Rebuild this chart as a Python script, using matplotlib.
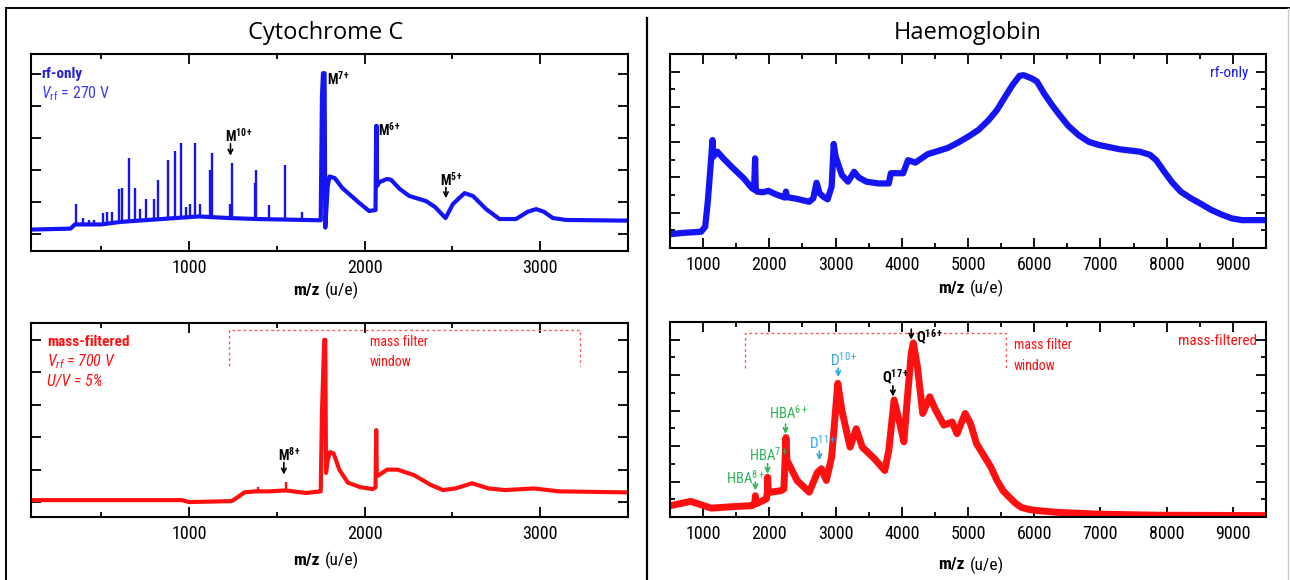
import numpy as np
import matplotlib
matplotlib.use("Agg")
import matplotlib.pyplot as plt
from matplotlib.lines import Line2D

plt.rcParams['font.family'] = ['Roboto Condensed', 'Liberation Sans', 'DejaVu Sans']
plt.rcParams['mathtext.fontset'] = 'custom'
plt.rcParams['mathtext.rm'] = 'Roboto Condensed'
plt.rcParams['mathtext.it'] = 'Roboto Condensed:italic'
plt.rcParams['mathtext.bf'] = 'Roboto Condensed:bold'

W, H = 1290, 580

# ---- Cytochrome C, rf-only (arbitrary intensity units)
cyt_rf_mz = [105, 325, 350, 500, 610, 870, 1055, 1230, 1385, 1575, 1750, 1757, 1763, 1772,
             1776, 1790, 1800, 1830, 1873, 1970, 2026, 2062, 2066, 2069, 2071, 2083, 2126,
             2150, 2200, 2255, 2350, 2400, 2461, 2503, 2569, 2617, 2692, 2768, 2862, 2930,
             2977, 3020, 3072, 3149, 3490]
cyt_rf_int = [0.14, 0.17, 0.3, 0.3, 0.38, 0.48, 0.55, 0.5, 0.47, 0.45, 0.43, 4.3, 5.03, 5.03,
              0.2, 1.5, 1.8, 1.75, 1.44, 0.97, 0.72, 0.75, 3.38, 3.38, 1.5, 1.62, 1.72,
              1.7, 1.41, 1.19, 1.03, 0.85, 0.5, 0.94, 1.28, 1.19, 0.78, 0.47, 0.47, 0.7,
              0.78, 0.7, 0.5, 0.44, 0.42]
cyt_rf_peak_mz = [354, 396, 430, 460, 508, 533, 560, 602, 617, 659, 691, 719, 757, 799, 825,
                  880, 922, 953, 980, 1003, 1036, 1064, 1122, 1129, 1236, 1242, 1376, 1382,
                  1453, 1549, 1646]
cyt_rf_peak_top = [0.94, 0.5, 0.45, 0.45, 0.66, 0.69, 0.7, 1.4, 1.44, 2.38, 1.44, 0.78, 1.09,
                   1.09, 1.69, 2.31, 2.59, 2.84, 0.85, 0.94, 2.84, 0.94, 2.0, 2.53, 0.94, 2.22,
                   1.6, 2.0, 0.9, 2.16, 0.69]

# ---- Cytochrome C, mass-filtered
cyt_mf_mz = [106, 960, 1000, 1243, 1280, 1315, 1380, 1456, 1550, 1668, 1750, 1757, 1770, 1776,
             1780, 1790, 1803, 1823, 1856, 1904, 1975, 2045, 2062, 2066, 2069, 2081, 2128,
             2187, 2282, 2376, 2446, 2517, 2612, 2706, 2800, 2965, 3107, 3484]
cyt_mf_int = [0.06, 0.06, 0.0, 0.03, 0.16, 0.3, 0.33, 0.33, 0.36, 0.28, 0.33, 2.74, 5.0, 5.0,
              0.9, 1.3, 1.54, 1.5, 1.0, 0.6, 0.46, 0.4, 0.45, 2.22, 0.8, 0.83, 1.0,
              1.0, 0.83, 0.53, 0.37, 0.42, 0.58, 0.42, 0.37, 0.42, 0.33, 0.3]
cyt_mf_peak_mz = [1390, 1550]
cyt_mf_peak_top = [0.46, 0.62]

# ---- Haemoglobin, rf-only
hb_rf_mz = [507, 700, 969, 1031, 1070, 1092, 1120, 1142, 1154, 1216, 1300, 1431, 1616, 1740,
            1770, 1785, 1795, 1813, 1900, 1986, 2100, 2233, 2251, 2270, 2400, 2602, 2664,
            2713, 2760, 2818, 2880, 2941, 2972, 3000, 3095, 3188, 3280, 3350, 3465, 3650,
            3804, 3835, 4020, 4094, 4205, 4390, 4513, 4698, 4852, 5006, 5160, 5314, 5437,
            5561, 5672, 5777, 5838, 5961, 6041, 6146, 6270, 6362, 6516, 6670, 6824, 6978,
            7287, 7595, 7749, 7842, 7965, 8088, 8211, 8365, 8519, 8673, 8827, 8982, 9136,
            9493]
hb_rf_int = [-0.61, -0.57, -0.54, -0.4, 0.3, 0.83, 1.5, 2.06, 1.59, 1.73, 1.55, 1.3, 0.97, 0.69,
             0.66, 1.54, 0.64, 0.6, 0.58, 0.62, 0.52, 0.43, 0.6, 0.44, 0.4, 0.31, 0.41,
             0.85, 0.55, 0.45, 0.38, 0.74, 1.95, 1.6, 1.07, 0.88, 1.16, 1.0, 0.88, 0.83,
             0.83, 1.12, 1.12, 1.49, 1.42, 1.66, 1.73, 1.84, 1.99, 2.16, 2.35, 2.63, 2.91,
             3.29, 3.62, 3.88, 3.9, 3.81, 3.72, 3.39, 3.05, 2.82, 2.46, 2.2, 2.01, 1.92,
             1.8, 1.73, 1.64, 1.49, 1.16, 0.85, 0.6, 0.41, 0.25, 0.08, -0.05, -0.16, -0.21,
             -0.21]

# ---- Haemoglobin, mass-filtered
hb_mf_mz = [507, 815, 1123, 1431, 1740, 1780, 1789, 1800, 1955, 1970, 1974, 1985, 2017, 2171,
            2220, 2251, 2265, 2294, 2418, 2602, 2726, 2787, 2861, 2941, 3034, 3095, 3219,
            3312, 3404, 3589, 3743, 3804, 3884, 3970, 4032, 4082, 4143, 4174, 4236, 4316,
            4421, 4513, 4636, 4760, 4834, 4957, 5037, 5129, 5253, 5345, 5438, 5530, 5623,
            5715, 5807, 5930, 6054, 6362, 6978, 7903, 9493]
hb_mf_int = [-0.68, -0.56, -0.75, -0.71, -0.68, -0.62, -0.4, -0.63, -0.49, -0.3, 0.12, -0.32,
             -0.3, -0.26, -0.21, 1.24, 0.6, 0.5, 0.03, -0.3, 0.26, 0.36, 0.03, 0.69, 2.77, 2.01,
             0.97, 1.49, 0.97, 0.64, 0.31, 0.88, 2.3, 1.64, 1.12, 2.3, 3.62, 3.91, 3.24, 1.92,
             2.39, 2.01, 1.59, 1.68, 1.35, 1.92, 1.64, 1.07, 0.69, 0.41, 0.03, -0.26, -0.44,
             -0.61, -0.73, -0.79, -0.82, -0.87, -0.92, -0.95, -0.96]

cyt_ticks = [1000, 2000, 3000]
hb_ticks = [1000, 2000, 3000, 4000, 5000, 6000, 7000, 8000, 9000]

BLUE = '#1414f5'
RED = '#ff1010'
GREEN = '#2db457'
CYAN = '#2aa8e2'


def box(l, t, r, b):
    return [l / W, 1 - b / H, (r - l) / W, (b - t) / H]


fig = plt.figure(figsize=(W / 100, H / 100), dpi=100)

ax_tl = fig.add_axes(box(31, 54, 628, 251))
ax_bl = fig.add_axes(box(31, 323, 628, 517))
ax_tr = fig.add_axes(box(670, 54, 1266, 248))
ax_br = fig.add_axes(box(670, 322, 1266, 517))

for ax in (ax_tl, ax_bl, ax_tr, ax_br):
    for s in ax.spines.values():
        s.set_linewidth(1.5)
    ax.tick_params(which='both', direction='in', top=True, right=True, labelleft=False,
                   width=1.3, labelsize=13, pad=6)
    ax.tick_params(which='major', length=7)
    ax.tick_params(which='minor', length=3.5)

# left column
for ax in (ax_tl, ax_bl):
    ax.set_xlim(100, 3500)
    ax.set_xticks(cyt_ticks)
    ax.set_xticks([500, 1500, 2500, 3500], minor=True)
    ax.set_yticks([0, 1, 2, 3, 4, 5])
ax_tl.set_ylim(-0.53, 5.63)
ax_bl.set_ylim(-0.46, 5.52)

# right column
for ax in (ax_tr, ax_br):
    ax.set_xlim(500, 9500)
    ax.set_xticks(hb_ticks)
    ax.set_xticks(np.arange(1500, 9500, 1000), minor=True)
    ax.set_ylim(-1.0, 4.5)
    ax.set_yticks([0, 1, 2, 3, 4])
    ax.set_yticks([-0.5, 0.5, 1.5, 2.5, 3.5], minor=True)

# spectra
ax_tl.plot(cyt_rf_mz, cyt_rf_int, color=BLUE, lw=3.0)
ax_tl.vlines(cyt_rf_peak_mz, np.interp(cyt_rf_peak_mz, cyt_rf_mz, cyt_rf_int),
             cyt_rf_peak_top, color=BLUE, lw=1.7)
ax_bl.plot(cyt_mf_mz, cyt_mf_int, color=RED, lw=3.0)
ax_bl.vlines(cyt_mf_peak_mz, np.interp(cyt_mf_peak_mz, cyt_mf_mz, cyt_mf_int),
             cyt_mf_peak_top, color=RED, lw=1.7)
ax_tr.plot(hb_rf_mz, hb_rf_int, color=BLUE, lw=4.5)
ax_br.plot(hb_mf_mz, hb_mf_int, color=RED, lw=5.0)


def sup_label(ax, x, y, base, sup, color='black', size=10, bold=True):
    if bold:
        s = base + r'$^{\mathbf{' + sup + '}}$'
    else:
        s = base + r'$^{\mathregular{' + sup + '}}$'
    ax.text(x, y, s, color=color, fontsize=size, fontweight='bold' if bold else 'normal',
            va='center', ha='left', zorder=5)


def arrow(ax, x, y0, y1, color='black'):
    ax.annotate('', xy=(x, y1), xytext=(x, y0),
                arrowprops=dict(arrowstyle='->', color=color, lw=1.2,
                                shrinkA=0, shrinkB=0, mutation_scale=8))


# condition labels
ax_tl.text(0.017, 0.9, 'rf-only', transform=ax_tl.transAxes, color='#2222dd',
           fontsize=11, fontweight='bold', va='center')
ax_tl.text(0.017, 0.8, r'$V_{\mathregular{rf}}$ = 270 V', transform=ax_tl.transAxes,
           color='#3b3bff', fontsize=11.5, va='center')
ax_bl.text(0.027, 0.9, 'mass-filtered', transform=ax_bl.transAxes, color=RED,
           fontsize=11, fontweight='bold', va='center')
ax_bl.text(0.027, 0.8, r'$V_{rf}$ = 700 V', transform=ax_bl.transAxes, color=RED,
           fontsize=11.5, style='italic', va='center')
ax_bl.text(0.027, 0.7, 'U/V = 5%', transform=ax_bl.transAxes, color=RED,
           fontsize=11.5, style='italic', va='center')
ax_tr.text(0.97, 0.9, 'rf-only', transform=ax_tr.transAxes, color=BLUE,
           fontsize=11, ha='right', va='center')
ax_br.text(0.985, 0.9, 'mass-filtered', transform=ax_br.transAxes, color=RED,
           fontsize=11, ha='right', va='center')

# mass filter windows
ax_bl.plot([1225, 1225, 3225, 3225], [4.2, 5.29, 5.29, 4.2], color='#ff5a5a', lw=1.0,
           ls=(0, (2, 2)))
ax_bl.text(2030, 4.63, 'mass filter\nwindow', color=RED, fontsize=10, va='center',
           linespacing=1.6)
ax_br.plot([1629, 1629, 5580, 5580], [3.2, 4.19, 4.19, 3.2], color='#ff5a5a', lw=1.0,
           ls=(0, (2, 2)))
ax_br.text(5690, 3.55, 'mass filter\nwindow', color=RED, fontsize=10, va='center',
           linespacing=1.6)

# peak labels, Cytochrome C
sup_label(ax_tl, 1785, 4.85, 'M', '7+')
sup_label(ax_tl, 2075, 3.25, 'M', '6+')
sup_label(ax_tl, 1205, 3.08, 'M', '10+')
arrow(ax_tl, 1236, 2.82, 2.45)
sup_label(ax_tl, 2432, 1.7, 'M', '5+')
arrow(ax_tl, 2463, 1.46, 1.12)
sup_label(ax_bl, 1508, 1.47, 'M', '8+')
arrow(ax_bl, 1540, 1.22, 0.85)

# peak labels, Haemoglobin
sup_label(ax_br, 1350, 0.12, 'HBA', '8+', GREEN, 10.5, False)
arrow(ax_br, 1789, -0.02, -0.25, GREEN)
sup_label(ax_br, 1690, 0.76, 'HBA', '7+', GREEN, 10.5, False)
arrow(ax_br, 1974, 0.5, 0.22, GREEN)
sup_label(ax_br, 2000, 1.95, 'HBA', '6+', GREEN, 10.5, False)
arrow(ax_br, 2245, 1.62, 1.34, GREEN)
sup_label(ax_br, 2600, 1.1, 'D', '11+', CYAN, 11, False)
arrow(ax_br, 2756, 0.86, 0.6, CYAN)
sup_label(ax_br, 2917, 3.43, 'D', '10+', CYAN, 11, False)
arrow(ax_br, 3040, 3.2, 2.95, CYAN)
sup_label(ax_br, 3700, 2.94, 'Q', '17+', 'black', 10.5, True)
arrow(ax_br, 3866, 2.7, 2.4)
sup_label(ax_br, 4216, 4.08, 'Q', '16+', 'black', 10.5, True)
arrow(ax_br, 4143, 4.3, 4.0)

# axis labels
for xs, ys in ((320, 290), (320, 560), (965, 288), (965, 565)):
    fig.text(xs / W, 1 - ys / H, 'm/z', fontsize=12.5, fontweight='bold', ha='right',
             va='center')
    fig.text((xs + 5) / W, 1 - ys / H, '(u/e)', fontsize=12.5, ha='left', va='center')

# titles
fig.text(326 / W, 1 - 33 / H, 'Cytochrome C', fontsize=17, family='Open Sans',
         ha='center', va='center')
fig.text(968 / W, 1 - 33 / H, 'Haemoglobin', fontsize=17, family='Open Sans',
         ha='center', va='center')

# frame and divider
fig.add_artist(Line2D([6 / W, 6 / W], [0, 1 - 8 / H], color='black', lw=1.4))
fig.add_artist(Line2D([6 / W, 1], [1 - 8 / H, 1 - 8 / H], color='black', lw=1.4))
fig.add_artist(Line2D([1288 / W, 1288 / W], [0, 1 - 8 / H], color='#cccccc', lw=1.0))
fig.add_artist(Line2D([647 / W, 647 / W], [0, 1 - 18 / H], color='black', lw=1.6))

fig.savefig('out.png', dpi=100, facecolor='white')
